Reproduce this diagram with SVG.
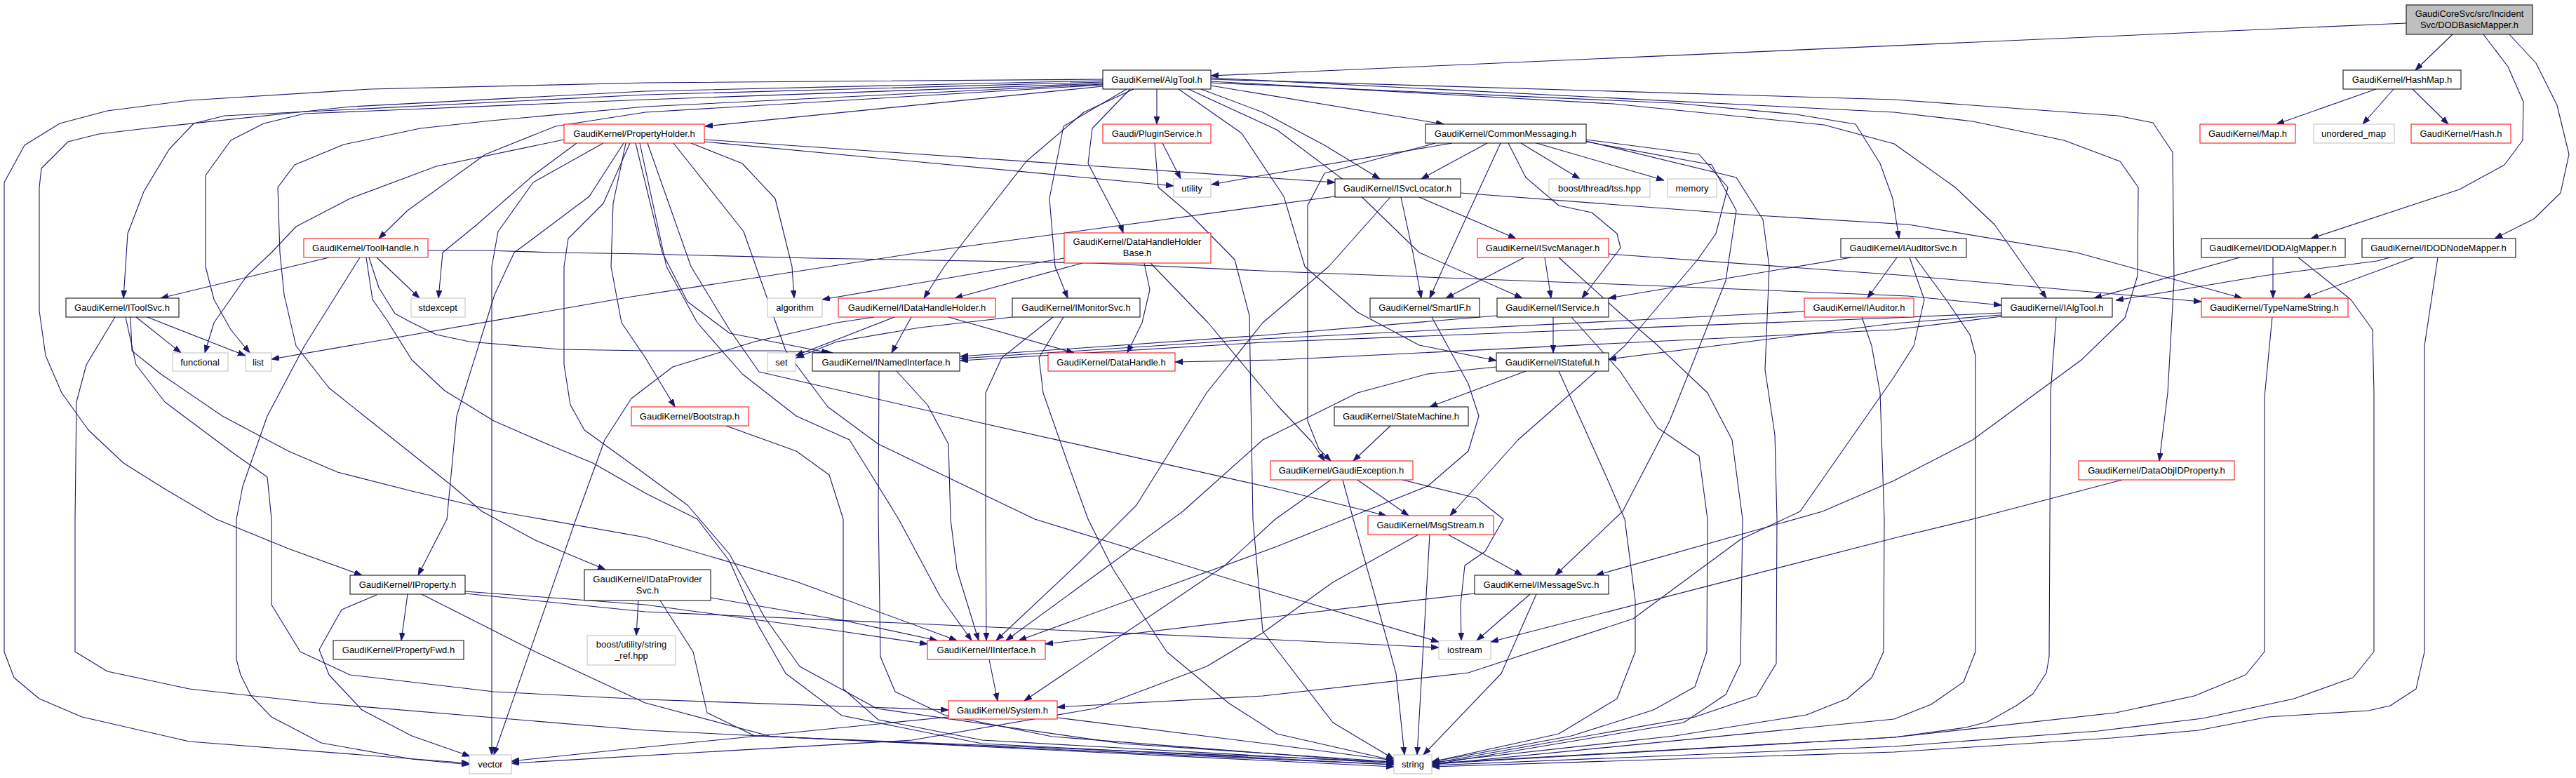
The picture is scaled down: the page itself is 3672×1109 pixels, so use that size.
<svg xmlns="http://www.w3.org/2000/svg" width="3672" height="1109" viewBox="0 0 3672 1109">
<style>
rect{fill:#fff;stroke:#000;stroke-width:1}
.r rect{stroke:#f00}
.g rect{stroke:#bfbfbf}
.root rect{fill:#bfbfbf}
text{font-family:"Liberation Sans",Arial,sans-serif;font-size:13px;text-anchor:middle;fill:#000}
#edges path{fill:none;stroke:#191970;stroke-width:1.1;stroke-linejoin:round;marker-end:url(#a)}
</style>
<defs>
<marker id="a" markerWidth="12" markerHeight="9" refX="11" refY="4" orient="auto" markerUnits="userSpaceOnUse"><path d="M0,0 L11,4 L0,8 z" fill="#191970" stroke="#191970" stroke-width="0.8"/></marker>
</defs>
<rect x="0" y="0" width="3672" height="1109" style="fill:#fff;stroke:none"/>
<g id="edges">
<path d="M3430,33 L1726,108"/>
<path d="M3496,49 L3443,100"/>
<path d="M3540,49 L3575,95 L3597,145 L3596,200 L3570,235 L3506,270 L3294,340"/>
<path d="M3577,49 L3615,90 L3645,150 L3662,220 L3650,275 L3612,312 L3556,340"/>
<path d="M3387,127 L3245,177"/>
<path d="M3412,127 L3368,177"/>
<path d="M3439,127 L3490,177"/>
<path d="M1572,123 L1005,180"/>
<path d="M1649,127 L1649,177"/>
<path d="M1726,122 L2058,177"/>
<path d="M1712,127 L1800,160 L1888,207 L1967,255"/>
<path d="M1694,127 L1820,185 L1920,260 L2023,360 L2170,425"/>
<path d="M1680,127 L1770,190 L1830,280 L1860,380 L1935,445 L2023,492 L2133,514"/>
<path d="M1726,116 L2300,148 L2600,178 L2700,205 L2787,267 L2843,320 L2917,425"/>
<path d="M1726,118 L2387,147 L2560,163 L2645,177 L2680,233 L2698,283 L2707,340"/>
<path d="M1726,113 L2700,142 L3019,165 L3069,175 L3097,217 L3099,400 L3090,560 L3078,657"/>
<path d="M1726,111 L2700,160 L2812,173 L2942,200 L3022,230 L3048,267 L3047,393 L3029,453 L2967,513 L2812,627 L2700,685 L2598,729 L2275,820"/>
<path d="M1616,127 L1545,160 L1463,230 L1346,380 L1317,425"/>
<path d="M1606,127 L1516,180 L1496,283 L1504,380 L1522,425"/>
<path d="M1611,127 L1557,183 L1551,233 L1598,323 L1601,332"/>
<path d="M1572,121 L920,160 L792,180 L692,220 L581,300 L540,340"/>
<path d="M1572,113 L920,118 L528,127 L270,143 L153,158 L85,176 L35,207 L6,260 L6,929 L20,966 L56,996 L117,1022 L270,1057 L669,1088"/>
<path d="M1572,115 L920,130 L500,152 L217,182 L141,191 L97,202 L59,240 L56,267 L56,443 L65,507 L88,560 L126,613 L176,660 L235,697 L308,740 L411,782 L516,820"/>
<path d="M1572,117 L920,135 L320,165 L276,176 L241,213 L205,273 L182,333 L176,425"/>
<path d="M1572,119 L920,142 L434,162 L376,176 L329,200 L293,250 L293,380 L305,427 L329,470 L356,503"/>
<path d="M1572,120 L920,152 L700,172 L599,183 L490,206 L420,235 L396,267 L399,360 L405,420 L422,493 L469,553 L528,600 L645,693 L687,729 L763,770 L863,812"/>
<path d="M1657,204 L1683,255"/>
<path d="M1646,204 L1651,267 L1698,307 L1760,370 L1781,450 L1786,740 L1800,900 L1900,1030 L1987,1082"/>
<path d="M804,199 L622,237 L499,283 L422,323 L387,360 L352,393 L305,460 L292,503"/>
<path d="M822,204 L760,250 L680,320 L631,360 L625,425"/>
<path d="M860,204 L760,260 L710,330 L701,380 L701,1076"/>
<path d="M889,204 L840,280 L760,340 L733,360 L705,420 L651,593 L637,740 L596,820"/>
<path d="M898,204 L860,290 L810,340 L804,380 L804,520 L813,577 L833,613 L898,660 L980,720 L1040,790 L1090,880 L1140,950 L1250,1010 L1600,1060 L1987,1086"/>
<path d="M892,204 L874,290 L871,380 L886,460 L920,510 L962,580"/>
<path d="M906,204 L944,360 L980,430 L1040,475 L1182,503"/>
<path d="M912,204 L950,380 L994,460 L1058,533 L1135,593 L1211,627 L1252,693 L1281,740 L1340,850 L1385,913"/>
<path d="M923,204 L985,380 L1040,470 L1082,530 L1399,603 L1820,697 L1976,735"/>
<path d="M960,204 L1060,330 L1120,500 L1180,580 L1252,633 L1475,740 L1820,846 L2051,915"/>
<path d="M985,204 L1058,233 L1105,283 L1129,380 L1132,425"/>
<path d="M1004,202 L1673,265"/>
<path d="M1004,199 L1800,253 L1903,260"/>
<path d="M2070,204 L1800,250 L1727,263"/>
<path d="M2120,204 L2026,255"/>
<path d="M2168,204 L2252,255"/>
<path d="M2190,204 L2372,257"/>
<path d="M2046,204 L1888,247 L1864,293 L1864,600 L1880,640 L1897,657"/>
<path d="M2139,204 L2058,380 L2038,425"/>
<path d="M2150,204 L2175,253 L2222,293 L2269,303 L2305,333 L2310,353 L2305,360 L2255,425"/>
<path d="M2261,199 L2422,220 L2463,267 L2446,333 L2420,370 L2316,493 L2164,627 L2067,735"/>
<path d="M2261,202 L2440,235 L2475,300 L2460,400 L2380,600 L2313,729 L2217,820"/>
<path d="M2261,201 L2475,253 L2513,313 L2522,380 L2516,527 L2530,620 L2533,740 L2532,946 L2504,992 L2416,1022 L2041,1088"/>
<path d="M1903,280 L1311,360 L900,423 L387,512"/>
<path d="M1997,281 L2014,360 L2026,425"/>
<path d="M2023,281 L2161,340"/>
<path d="M2082,275 L2504,307 L2720,320 L2960,360 L3196,425"/>
<path d="M1982,281 L1894,380 L1800,460 L1720,560 L1620,720 L1540,800 L1420,913"/>
<path d="M610,357 L692,357 L792,360 L920,362 L1158,368 L1560,375 L1820,387 L2300,405 L2720,422 L2853,435"/>
<path d="M469,367 L229,425"/>
<path d="M513,367 L434,493 L381,593 L346,693 L337,740 L337,940 L343,962 L358,992 L387,1022 L458,1059 L587,1082 L669,1090"/>
<path d="M522,367 L531,427 L552,457 L587,513 L634,557 L704,600 L780,633 L845,660 L920,703 L994,740 L1040,800 L1080,890 L1120,960 L1200,1020 L1400,1060 L1987,1090"/>
<path d="M526,367 L540,410 L563,447 L587,460 L622,477 L669,487 L798,498 L920,500 L1111,500 L1187,503"/>
<path d="M537,367 L598,425"/>
<path d="M1543,375 L1361,425"/>
<path d="M1517,368 L1172,427"/>
<path d="M1631,375 L1639,413 L1628,460 L1607,503"/>
<path d="M1640,375 L1722,460 L1820,577 L1870,630 L1888,657"/>
<path d="M2173,367 L2061,425"/>
<path d="M2202,367 L2211,425"/>
<path d="M2222,367 L2310,447 L2357,487 L2434,560 L2469,627 L2484,740 L2481,946 L2460,990 L2400,1030 L2041,1090"/>
<path d="M2293,362 L2720,393 L3138,430"/>
<path d="M2639,367 L2293,425"/>
<path d="M2704,367 L2662,425"/>
<path d="M2722,367 L2743,427 L2728,493 L2700,537 L2566,729 L2481,769 L2328,882 L2093,959 L1800,992 L1507,1008"/>
<path d="M2730,367 L2774,427 L2808,477 L2816,507 L2816,929 L2799,972 L2753,1004 L2700,1025 L2041,1090"/>
<path d="M3193,367 L2985,425"/>
<path d="M3240,367 L3240,425"/>
<path d="M3276,367 L3351,427 L3382,470 L3384,560 L3384,929 L3354,966 L3270,996 L3140,1024 L2991,1042 L2700,1064 L2041,1091"/>
<path d="M3407,367 L3388,372 L3227,393 L3084,417 L3016,428"/>
<path d="M3441,367 L3283,425"/>
<path d="M3475,367 L3456,493 L3456,929 L3444,982 L3407,1006 L3376,1013 L3233,1022 L3134,1041 L3010,1052 L2700,1072 L2041,1093"/>
<path d="M194,452 L258,503"/>
<path d="M210,452 L350,507"/>
<path d="M164,452 L123,520 L109,573 L107,740 L107,929 L153,957 L270,982 L452,1002 L920,1041 L1987,1093"/>
<path d="M179,452 L194,520 L235,573 L334,647 L381,680 L387,740 L387,862 L428,929 L499,962 L704,986 L920,997 L1352,1012"/>
<path d="M186,452 L188,500 L229,533 L317,593 L411,643 L481,673 L587,700 L710,729 L920,766 L1135,829 L1364,913"/>
<path d="M1299,452 L1271,503"/>
<path d="M1352,452 L1531,503"/>
<path d="M1275,452 L1134,507"/>
<path d="M1246,452 L1193,460 L1076,487 L959,523 L900,568 L862,627 L821,740 L704,1076"/>
<path d="M1443,452 L1311,467 L1193,487 L1135,510"/>
<path d="M1501,452 L1428,510 L1405,560 L1405,740 L1406,913"/>
<path d="M1516,452 L1481,510 L1487,560 L1522,660 L1551,740 L1587,812 L1663,929 L1751,1002 L1820,1046 L1987,1084"/>
<path d="M2041,452 L2093,547 L2108,593 L2093,643 L2035,693 L1917,740 L1820,779 L1452,913"/>
<path d="M2214,452 L2214,503"/>
<path d="M2134,450 L1800,478 L1369,508"/>
<path d="M2240,452 L2310,530 L2363,610 L2422,650 L2434,740 L2433,929 L2416,979 L2357,1012 L2240,1049 L2041,1086"/>
<path d="M2572,444 L1800,483 L1369,511"/>
<path d="M2654,452 L2668,493 L2680,560 L2686,740 L2685,929 L2668,966 L2633,996 L2575,1019 L2387,1049 L2041,1087"/>
<path d="M2853,446 L2700,453 L1800,488 L1369,514"/>
<path d="M2853,449 L2700,461 L2293,512"/>
<path d="M2853,451 L2700,470 L1820,513 L1675,516"/>
<path d="M2931,452 L2923,560 L2921,936 L2917,959 L2898,989 L2874,1006 L2833,1029 L2802,1037 L2700,1051 L2041,1089"/>
<path d="M1278,529 L1322,577 L1352,633 L1355,740 L1364,812 L1395,913"/>
<path d="M1253,529 L1252,729 L1255,936 L1276,986 L1346,1019 L1500,1050 L1987,1088"/>
<path d="M2175,529 L2038,580"/>
<path d="M2222,529 L2290,680 L2316,740 L2331,856 L2331,929 L2305,996 L2222,1046 L2041,1086"/>
<path d="M2133,523 L2035,533 L1935,560 L1800,627 L1686,729 L1434,913"/>
<path d="M1982,607 L1929,657"/>
<path d="M1935,684 L2008,735"/>
<path d="M1914,684 L1929,740 L1960,850 L1990,960 L2002,1076"/>
<path d="M1897,684 L1818,740 L1745,807 L1460,999"/>
<path d="M1999,684 L2105,710 L2143,740 L2117,786 L2088,806 L2082,862 L2083,913"/>
<path d="M1035,607 L1135,643 L1182,677 L1202,740 L1202,982 L1252,1026 L1400,1055 L1987,1088"/>
<path d="M3025,684 L2812,740 L2700,767 L2125,915"/>
<path d="M2064,762 L2170,820"/>
<path d="M2038,762 L2020,1076"/>
<path d="M2022,762 L1900,830 L1800,902 L1720,950 L1560,1010 L1300,1055 L729,1088"/>
<path d="M581,847 L572,913"/>
<path d="M537,848 L487,869 L455,926 L469,962 L516,1012 L587,1049 L670,1078"/>
<path d="M663,843 L920,862 L1200,900 L1322,918"/>
<path d="M663,846 L920,872 L1820,912 L2051,923"/>
<path d="M601,847 L763,929 L920,1002 L1100,1050 L1987,1090"/>
<path d="M910,856 L907,906"/>
<path d="M1013,852 L1205,885 L1336,913"/>
<path d="M941,856 L988,929 L1008,1016 L1076,1049 L1987,1086"/>
<path d="M2102,846 L1800,881 L1490,918"/>
<path d="M2181,847 L2105,913"/>
<path d="M2190,847 L2140,960 L2029,1076"/>
<path d="M1410,940 L1422,999"/>
<path d="M1352,1022 L900,1067 L729,1085"/>
<path d="M1507,1023 L1820,1062 L1987,1084"/>
<path d="M3239,452 L3228,566 L3228,929 L3201,962 L3128,992 L3016,1016 L2700,1051 L2041,1088"/>
</g>
<g id="n_root" class="root"><rect x="3430" y="7" width="180" height="42"/><text x="3520" y="24">GaudiCoreSvc/src/Incident</text><text x="3520" y="40">Svc/DODBasicMapper.h</text></g>
<g id="n_algtool"><rect x="1572" y="100" width="154" height="27"/><text x="1649" y="118">GaudiKernel/AlgTool.h</text></g>
<g id="n_hashmap"><rect x="3340" y="100" width="168" height="27"/><text x="3424" y="118">GaudiKernel/HashMap.h</text></g>
<g id="n_propertyholder" class="r"><rect x="804" y="177" width="200" height="27"/><text x="904" y="195">GaudiKernel/PropertyHolder.h</text></g>
<g id="n_pluginservice" class="r"><rect x="1572" y="177" width="154" height="27"/><text x="1649" y="195">Gaudi/PluginService.h</text></g>
<g id="n_commonmessaging"><rect x="2032" y="177" width="229" height="27"/><text x="2146" y="195">GaudiKernel/CommonMessaging.h</text></g>
<g id="n_map" class="r"><rect x="3136" y="177" width="136" height="27"/><text x="3204" y="195">GaudiKernel/Map.h</text></g>
<g id="n_unordered_map" class="g"><rect x="3298" y="177" width="115" height="27"/><text x="3355" y="195">unordered_map</text></g>
<g id="n_hash" class="r"><rect x="3437" y="177" width="142" height="27"/><text x="3508" y="195">GaudiKernel/Hash.h</text></g>
<g id="n_utility" class="g"><rect x="1673" y="255" width="53" height="26"/><text x="1699" y="273">utility</text></g>
<g id="n_isvclocator"><rect x="1903" y="255" width="179" height="26"/><text x="1992" y="273">GaudiKernel/ISvcLocator.h</text></g>
<g id="n_tss" class="g"><rect x="2208" y="255" width="144" height="26"/><text x="2280" y="273">boost/thread/tss.hpp</text></g>
<g id="n_memory" class="g"><rect x="2377" y="255" width="70" height="26"/><text x="2412" y="273">memory</text></g>
<g id="n_toolhandle" class="r"><rect x="433" y="340" width="177" height="27"/><text x="521" y="358">GaudiKernel/ToolHandle.h</text></g>
<g id="n_dhhbase" class="r"><rect x="1517" y="332" width="209" height="43"/><text x="1621" y="349">GaudiKernel/DataHandleHolder</text><text x="1621" y="365">Base.h</text></g>
<g id="n_isvcmanager" class="r"><rect x="2106" y="340" width="187" height="27"/><text x="2199" y="358">GaudiKernel/ISvcManager.h</text></g>
<g id="n_iauditorsvc"><rect x="2624" y="340" width="179" height="27"/><text x="2713" y="358">GaudiKernel/IAuditorSvc.h</text></g>
<g id="n_idodalgmapper"><rect x="3138" y="340" width="205" height="27"/><text x="3240" y="358">GaudiKernel/IDODAlgMapper.h</text></g>
<g id="n_idodnodemapper"><rect x="3367" y="340" width="219" height="27"/><text x="3476" y="358">GaudiKernel/IDODNodeMapper.h</text></g>
<g id="n_itoolsvc"><rect x="94" y="425" width="161" height="27"/><text x="174" y="443">GaudiKernel/IToolSvc.h</text></g>
<g id="n_stdexcept" class="g"><rect x="586" y="425" width="77" height="27"/><text x="624" y="443">stdexcept</text></g>
<g id="n_algorithm" class="g"><rect x="1094" y="425" width="78" height="27"/><text x="1133" y="443">algorithm</text></g>
<g id="n_idatahandleholder" class="r"><rect x="1195" y="425" width="224" height="27"/><text x="1307" y="443">GaudiKernel/IDataHandleHolder.h</text></g>
<g id="n_imonitorsvc"><rect x="1443" y="425" width="182" height="27"/><text x="1534" y="443">GaudiKernel/IMonitorSvc.h</text></g>
<g id="n_smartif"><rect x="1953" y="425" width="156" height="27"/><text x="2031" y="443">GaudiKernel/SmartIF.h</text></g>
<g id="n_iservice"><rect x="2134" y="425" width="159" height="27"/><text x="2213" y="443">GaudiKernel/IService.h</text></g>
<g id="n_iauditor" class="r"><rect x="2572" y="425" width="156" height="27"/><text x="2650" y="443">GaudiKernel/IAuditor.h</text></g>
<g id="n_ialgtool"><rect x="2853" y="425" width="158" height="27"/><text x="2932" y="443">GaudiKernel/IAlgTool.h</text></g>
<g id="n_typenamestring" class="r"><rect x="3138" y="425" width="209" height="27"/><text x="3242" y="443">GaudiKernel/TypeNameString.h</text></g>
<g id="n_functional" class="g"><rect x="246" y="503" width="79" height="26"/><text x="285" y="521">functional</text></g>
<g id="n_list" class="g"><rect x="350" y="503" width="37" height="26"/><text x="368" y="521">list</text></g>
<g id="n_set" class="g"><rect x="1094" y="503" width="40" height="26"/><text x="1114" y="521">set</text></g>
<g id="n_inamedinterface"><rect x="1158" y="503" width="210" height="26"/><text x="1263" y="521">GaudiKernel/INamedInterface.h</text></g>
<g id="n_datahandle" class="r"><rect x="1494" y="503" width="181" height="26"/><text x="1584" y="521">GaudiKernel/DataHandle.h</text></g>
<g id="n_istateful"><rect x="2133" y="503" width="160" height="26"/><text x="2213" y="521">GaudiKernel/IStateful.h</text></g>
<g id="n_bootstrap" class="r"><rect x="900" y="580" width="167" height="27"/><text x="983" y="598">GaudiKernel/Bootstrap.h</text></g>
<g id="n_statemachine"><rect x="1902" y="580" width="191" height="27"/><text x="1997" y="598">GaudiKernel/StateMachine.h</text></g>
<g id="n_gaudiexception" class="r"><rect x="1811" y="657" width="203" height="27"/><text x="1912" y="675">GaudiKernel/GaudiException.h</text></g>
<g id="n_dataobjidproperty" class="r"><rect x="2963" y="657" width="222" height="27"/><text x="3074" y="675">GaudiKernel/DataObjIDProperty.h</text></g>
<g id="n_msgstream" class="r"><rect x="1950" y="735" width="179" height="27"/><text x="2039" y="753">GaudiKernel/MsgStream.h</text></g>
<g id="n_iproperty"><rect x="499" y="820" width="164" height="27"/><text x="581" y="838">GaudiKernel/IProperty.h</text></g>
<g id="n_idataprovidersvc"><rect x="833" y="812" width="180" height="44"/><text x="923" y="830">GaudiKernel/IDataProvider</text><text x="923" y="846">Svc.h</text></g>
<g id="n_imessagesvc"><rect x="2102" y="820" width="191" height="27"/><text x="2197" y="838">GaudiKernel/IMessageSvc.h</text></g>
<g id="n_propertyfwd"><rect x="475" y="913" width="186" height="27"/><text x="568" y="931">GaudiKernel/PropertyFwd.h</text></g>
<g id="n_string_ref" class="g"><rect x="837" y="906" width="126" height="42"/><text x="900" y="923">boost/utility/string</text><text x="900" y="939">_ref.hpp</text></g>
<g id="n_iinterface" class="r"><rect x="1322" y="913" width="168" height="27"/><text x="1406" y="931">GaudiKernel/IInterface.h</text></g>
<g id="n_iostream" class="g"><rect x="2051" y="913" width="74" height="27"/><text x="2088" y="931">iostream</text></g>
<g id="n_system" class="r"><rect x="1352" y="999" width="155" height="26"/><text x="1429" y="1017">GaudiKernel/System.h</text></g>
<g id="n_vector" class="g"><rect x="669" y="1076" width="60" height="27"/><text x="699" y="1094">vector</text></g>
<g id="n_string" class="g"><rect x="1987" y="1076" width="54" height="27"/><text x="2014" y="1094">string</text></g>
</svg>
